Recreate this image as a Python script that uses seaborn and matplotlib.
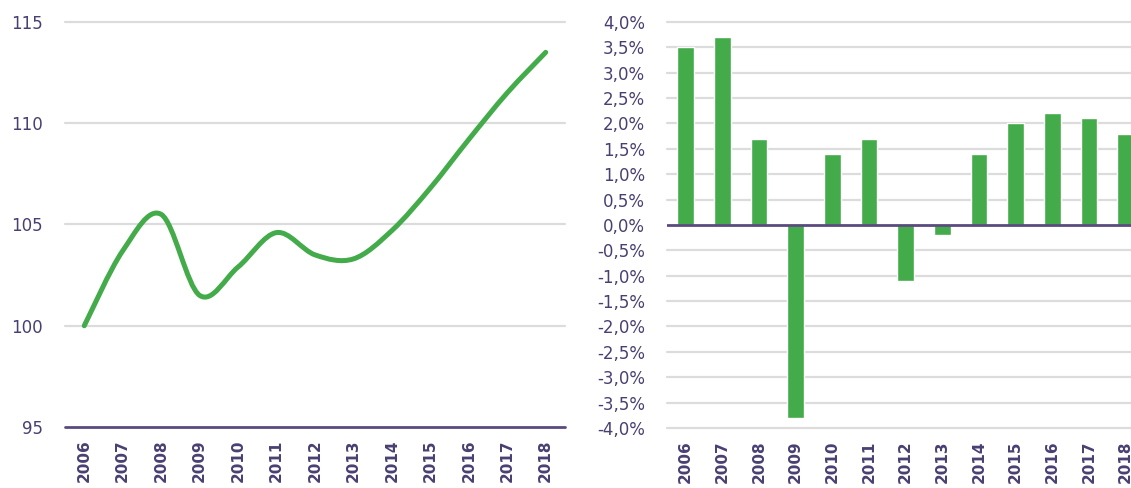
import matplotlib
matplotlib.use("Agg")
import matplotlib.pyplot as plt
from matplotlib.path import Path
from matplotlib.patches import PathPatch
from matplotlib.ticker import FuncFormatter
import numpy as np
import pandas as pd
import seaborn as sns

# Data
years = ["2006", "2007", "2008", "2009", "2010", "2011", "2012",
         "2013", "2014", "2015", "2016", "2017", "2018"]
index_values = [100, 103.7, 105.5, 101.5, 102.9, 104.6, 103.5,
                103.3, 104.7, 106.8, 109.2, 111.5, 113.5]
growth_pct = [3.5, 3.7, 1.7, -3.8, 1.4, 1.7, -1.1,
              -0.2, 1.4, 2.0, 2.2, 2.1, 1.8]

# Colours
GREEN = "#43AB4A"
PURPLE = "#5A4A7E"
LABEL = "#4A3F72"
GRID = "#DCDCDC"

sns.set_style("white")
plt.rcParams["font.family"] = ["DejaVu Sans"]

fig = plt.figure(figsize=(11.31, 4.88), dpi=100)
ax1 = fig.add_axes([0.0575, 0.125, 0.442, 0.830])
ax2 = fig.add_axes([0.590, 0.123, 0.4215, 0.832])


def smooth_path(xs, ys):
    # Bezier segments like a spreadsheet "smoothed line"
    pts = np.column_stack([xs, ys]).astype(float)
    n = len(pts)
    verts = [pts[0]]
    codes = [Path.MOVETO]
    for i in range(n - 1):
        p0 = pts[i - 1] if i > 0 else pts[i]
        p1 = pts[i]
        p2 = pts[i + 1]
        p3 = pts[i + 2] if i + 2 < n else pts[i + 1]
        c1 = p1 + (p2 - p0) / 6.0
        c2 = p2 - (p3 - p1) / 6.0
        verts += [c1, c2, p2]
        codes += [Path.CURVE4] * 3
    return Path(verts, codes)


# --- left: index line ---
x_pos = np.arange(len(years))
ax1.add_patch(PathPatch(smooth_path(x_pos, index_values), fill=False,
                        edgecolor=GREEN, lw=3.6, capstyle="round",
                        joinstyle="round", zorder=3))
ax1.set_xlim(-0.5, len(years) - 0.5)
ax1.set_ylim(95, 115)
ax1.set_yticks([95, 100, 105, 110, 115])
for v in [100, 105, 110, 115]:
    ax1.axhline(v, color=GRID, lw=1.6, zorder=1, clip_on=False)
ax1.axhline(95, color=PURPLE, lw=2.0, zorder=2, clip_on=False)
ax1.set_xticks(x_pos)
ax1.set_xticklabels(years)

# --- right: growth bars ---
df = pd.DataFrame({"year": years, "growth": growth_pct})
for v in np.arange(-4.0, 4.01, 0.5):
    if abs(v) > 1e-9:
        ax2.axhline(v, color=GRID, lw=1.6, zorder=0, clip_on=False)
sns.barplot(data=df, x="year", y="growth", color=GREEN, width=0.46,
            saturation=1, ax=ax2, zorder=2)
ax2.axhline(0, color=PURPLE, lw=2.0, zorder=3)
ax2.set_ylim(-4.0, 4.0)
ax2.set_xlim(-0.5, len(years) - 0.5)
ax2.set_yticks(np.arange(-4.0, 4.01, 0.5))
ax2.yaxis.set_major_formatter(
    FuncFormatter(lambda v, p: f"{v:.1f}%".replace(".", ",")))

for ax in (ax1, ax2):
    sns.despine(ax=ax, left=True, bottom=True)
    ax.set_xlabel("")
    ax.set_ylabel("")
    ax.tick_params(axis="both", length=0)
    ax.tick_params(axis="y", labelsize=12, labelcolor=LABEL, pad=16)
    ax.tick_params(axis="x", labelsize=11, labelcolor=LABEL, pad=9)
    for lab in ax.get_xticklabels():
        lab.set_rotation(90)
        lab.set_fontweight("bold")
        lab.set_va("top")
        lab.set_ha("center")

fig.savefig("out.png", dpi=100)
